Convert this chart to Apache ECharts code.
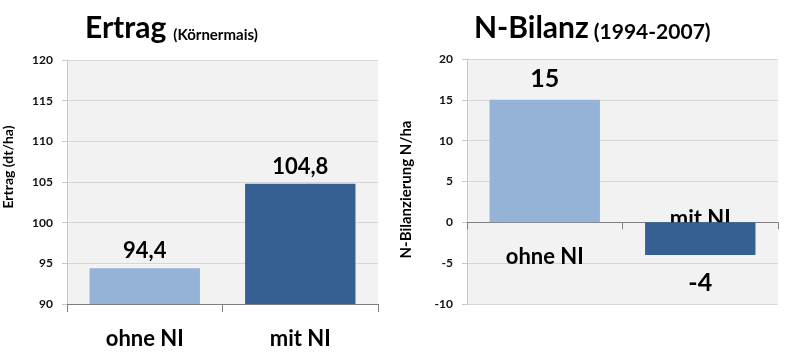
<!DOCTYPE html>
<html>
<head>
<meta charset="utf-8">
<script src="https://cdn.jsdelivr.net/npm/echarts@6/dist/echarts.min.js"></script>
<style>
html,body{margin:0;padding:0;background:#fff;}
#c{width:800px;height:356px;}
</style>
</head>
<body>
<div id="c"></div>
<script>
// ---- data ----
const categories = ['ohne NI', 'mit NI'];
const ertragValues = [94.4, 104.8];
const bilanzValues = [15, -4];
const ertragTicks = [90, 95, 100, 105, 110, 115, 120];
const bilanzTicks = [-10, -5, 0, 5, 10, 15, 20];

// ---- styles ----
const barColors = ['#95b3d7', '#376092'];
const FONT = 'Lato';
const chart = echarts.init(document.getElementById('c'));

const fmtComma = p => String(p.value).replace('.', ',');

const grid2Height = 245;
const bMin = bilanzTicks[0], bMax = bilanzTicks[bilanzTicks.length - 1];
// place the category axis of the right chart at value 0
const zeroOffset = -((0 - bMin) / (bMax - bMin)) * grid2Height;

const yCommon = {
  type: 'value',
  nameLocation: 'middle',
  axisLine: { show: true, onZero: false, lineStyle: { color: '#c8c8c8' } },
  axisTick: { show: true, length: 5, lineStyle: { color: '#c8c8c8' } },
  axisLabel: { fontFamily: FONT, fontWeight: 'bold', fontSize: 12, color: '#111', margin: 14 },
  splitLine: { show: true, lineStyle: { color: '#d6d6d6', width: 1 } }
};

chart.setOption({
  animation: false,
  title: [
    {
      left: 80, top: 4,
      text: '{a|Ertrag} {b|(Körnermais)}',
      textStyle: {
        rich: {
          a: { fontFamily: FONT, fontWeight: 'bold', fontSize: 30, color: '#000', verticalAlign: 'bottom', lineHeight: 34 },
          b: { fontFamily: FONT, fontWeight: 'bold', fontSize: 15, color: '#000', verticalAlign: 'bottom', lineHeight: 34, padding: [0, 0, 0, 2] }
        }
      }
    },
    {
      left: 469, top: 4,
      text: '{a|N-Bilanz} {b|(1994-2007)}',
      textStyle: {
        rich: {
          a: { fontFamily: FONT, fontWeight: 'bold', fontSize: 30, color: '#000', verticalAlign: 'bottom', lineHeight: 34 },
          b: { fontFamily: FONT, fontWeight: 'bold', fontSize: 21, color: '#000', verticalAlign: 'bottom', lineHeight: 34 }
        }
      }
    }
  ],
  grid: [
    { left: 67, top: 60, width: 311, height: 244, show: true, backgroundColor: '#f2f2f2', borderWidth: 0 },
    { left: 467, top: 59, width: 311, height: grid2Height, show: true, backgroundColor: '#f2f2f2', borderWidth: 0 }
  ],
  xAxis: [
    {
      type: 'category', gridIndex: 0, data: categories,
      axisLine: { onZero: false, lineStyle: { color: '#7f7f7f' } },
      axisTick: { show: true, length: 8, lineStyle: { color: '#7f7f7f' } },
      axisLabel: { fontFamily: FONT, fontWeight: 'bold', fontSize: 22, color: '#000', margin: 24 },
      splitLine: { show: false }
    },
    {
      type: 'category', gridIndex: 1, data: categories,
      offset: zeroOffset,
      axisLine: { onZero: false, lineStyle: { color: '#7f7f7f' } },
      axisTick: { show: true, length: 7, lineStyle: { color: '#7f7f7f' } },
      axisLabel: {
        margin: -14,
        formatter: v => (v === categories[0] ? '{a|' + v + '}' : '{b|' + v + '}'),
        rich: {
          a: { fontFamily: FONT, fontWeight: 'bold', fontSize: 22, color: '#000', padding: [38, 0, 0, 0] },
          b: { fontFamily: FONT, fontWeight: 'bold', fontSize: 22, color: '#000' }
        }
      },
      splitLine: { show: false }
    }
  ],
  yAxis: [
    Object.assign({}, yCommon, {
      gridIndex: 0, min: ertragTicks[0], max: ertragTicks[ertragTicks.length - 1], interval: 5,
      name: 'Ertrag (dt/ha)', nameGap: 52,
      nameTextStyle: { fontFamily: FONT, fontWeight: 'bold', fontSize: 14, color: '#000', padding: [0, 0, 0, 30] }
    }),
    Object.assign({}, yCommon, {
      gridIndex: 1, min: bMin, max: bMax, interval: 5,
      name: 'N-Bilanzierung N/ha', nameGap: 53,
      nameTextStyle: { fontFamily: FONT, fontWeight: 'bold', fontSize: 15, color: '#000', padding: [0, 16, 0, 0] }
    })
  ],
  series: [
    {
      type: 'bar', xAxisIndex: 0, yAxisIndex: 0,
      data: ertragValues.map((v, i) => ({ value: v, itemStyle: { color: barColors[i] } })),
      barWidth: '71%',
      label: { show: true, position: 'top', distance: 6, formatter: fmtComma,
        fontFamily: FONT, fontWeight: 'bold', fontSize: 22, color: '#000' }
    },
    {
      type: 'bar', xAxisIndex: 1, yAxisIndex: 1,
      data: bilanzValues.map((v, i) => ({
        value: v, itemStyle: { color: barColors[i] },
        label: v < 0 ? { position: 'bottom', offset: [0, 7] } : undefined
      })),
      barWidth: '71%', z: 5,
      label: { show: true, position: 'top', distance: 8, formatter: fmtComma,
        fontFamily: FONT, fontWeight: 'bold', fontSize: 25, color: '#000' }
    }
  ]
});
</script>
</body>
</html>
